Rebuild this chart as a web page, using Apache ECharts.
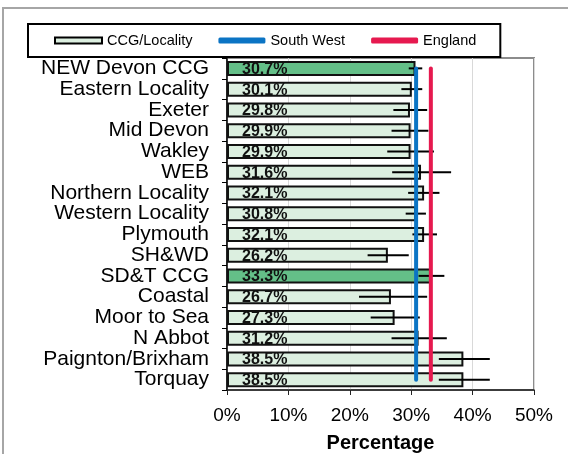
<!DOCTYPE html>
<html>
<head>
<meta charset="utf-8">
<script src="https://cdn.jsdelivr.net/npm/echarts@6/dist/echarts.min.js"></script>
<style>
html,body{margin:0;padding:0;background:#fff;}
#wrap{position:relative;width:568px;height:454px;overflow:hidden;}
#frame{position:absolute;left:2px;top:7px;width:700px;height:600px;border-left:2px solid #a6a6a6;border-top:2px solid #a6a6a6;}
#chart{position:absolute;left:0;top:0;width:568px;height:454px;}
</style>
</head>
<body>
<div id="wrap"><div id="frame"></div><div id="chart"></div></div>
<script>
const categories = ['NEW Devon CCG','Eastern Locality','Exeter','Mid Devon','Wakley','WEB','Northern Locality','Western Locality','Plymouth','SH&WD','SD&T CCG','Coastal','Moor to Sea','N Abbot','Paignton/Brixham','Torquay'];
const values = [30.7,30.1,29.8,29.9,29.9,31.6,32.1,30.8,32.1,26.2,33.3,26.7,27.3,31.2,38.5,38.5];
const errLow = [29.6,28.4,27.1,26.8,26.1,26.9,29.5,29.1,30.2,22.9,31.2,21.5,23.4,26.8,34.5,34.5];
const errHigh = [31.8,31.8,32.6,32.8,33.7,36.5,34.6,32.4,34.2,29.6,35.4,32.6,31.4,35.8,42.8,42.8];
const highlighted = ['NEW Devon CCG','SD&T CCG'];
const southWest = 30.8;
const england = 33.2;
const xTicks = [0,10,20,30,40,50];

const LIGHT = '#dcefe0', DARK = '#64bf88', BLUE = '#0b74c4', RED = '#e6194f';
const chart = echarts.init(document.getElementById('chart'), null, {renderer:'canvas'});
const font = '"Liberation Sans", Arial, sans-serif';

const barData = categories.map((c,i)=>({
  value: values[i],
  itemStyle: { color: highlighted.includes(c) ? DARK : LIGHT }
}));
const errData = categories.map((c,i)=>[errLow[i], errHigh[i], i]);

chart.setOption({
  animation:false,
  textStyle:{fontFamily:font},
  grid:{left:227, right:34, top:58, bottom:64, containLabel:false, outerBoundsMode:'none',
    show:true, borderColor:'#8c8c8c', borderWidth:2, backgroundColor:'#fff', z:0},
  legend:{
    left:28, top:24,
    padding:[9,24,9,26],
    borderColor:'#000', borderWidth:2, backgroundColor:'#fff',
    itemWidth:47, itemHeight:6, itemGap:26,
    textStyle:{fontSize:14.5, color:'#000', fontFamily:font},
    data:[
      {name:'CCG/Locality', icon:'rect', itemStyle:{color:LIGHT, borderColor:'#000', borderWidth:2}},
      {name:'South West', icon:'roundRect', itemStyle:{color:BLUE, borderWidth:0}},
      {name:'England', icon:'roundRect', itemStyle:{color:RED, borderWidth:0}}
    ],
    z:10
  },
  xAxis:{
    type:'value', min:xTicks[0], max:xTicks[xTicks.length-1], interval:10,
    axisLine:{show:true, lineStyle:{color:'#222', width:1.5}},
    axisTick:{show:true, length:5, lineStyle:{color:'#222'}},
    axisLabel:{formatter:'{value}%', fontSize:19, color:'#000', margin:16, fontFamily:font},
    splitLine:{show:true, lineStyle:{color:'#d9d9d9', width:1}},
    name:'Percentage', nameLocation:'middle', nameGap:43,
    nameTextStyle:{fontSize:20, fontWeight:'bold', color:'#000', fontFamily:font}
  },
  yAxis:{
    type:'category', data:categories, inverse:true,
    axisLine:{show:true, lineStyle:{color:'#000', width:1.5}},
    axisTick:{show:true, length:5, lineStyle:{color:'#000'}},
    axisLabel:{fontSize:21, color:'#000', margin:18, interval:0, hideOverlap:false, fontFamily:font},
    splitLine:{show:false}
  },
  series:[
    {
      name:'CCG/Locality', type:'bar', data:barData, barWidth:15,
      itemStyle:{color:LIGHT, borderColor:'#111', borderWidth:2},
      label:{show:true, position:'insideLeft', distance:15, offset:[0,1], formatter:p=>p.value.toFixed(1)+'%',
        fontSize:16, fontWeight:'bold', color:'#111', fontFamily:font},
      z:2
    },
    {
      name:'errors', type:'custom', data:errData,
      encode:{x:[0,1], y:2},
      renderItem:(params, api)=>{
        const idx = api.value(2);
        const a = api.coord([api.value(0), idx]);
        const b = api.coord([api.value(1), idx]);
        return {type:'line', shape:{x1:a[0], y1:a[1], x2:b[0], y2:b[1]}, style:{stroke:'#000', lineWidth:2}};
      },
      z:3
    },
    {
      name:'South West', type:'line', data:[[southWest, 0],[southWest, categories.length-1]],
      symbol:'none', lineStyle:{color:BLUE, width:4, cap:'round'}, itemStyle:{color:BLUE}, z:4
    },
    {
      name:'England', type:'line', data:[[england, 0],[england, categories.length-1]],
      symbol:'none', lineStyle:{color:RED, width:4, cap:'round'}, itemStyle:{color:RED}, z:4
    }
  ]
});
</script>
</body>
</html>
